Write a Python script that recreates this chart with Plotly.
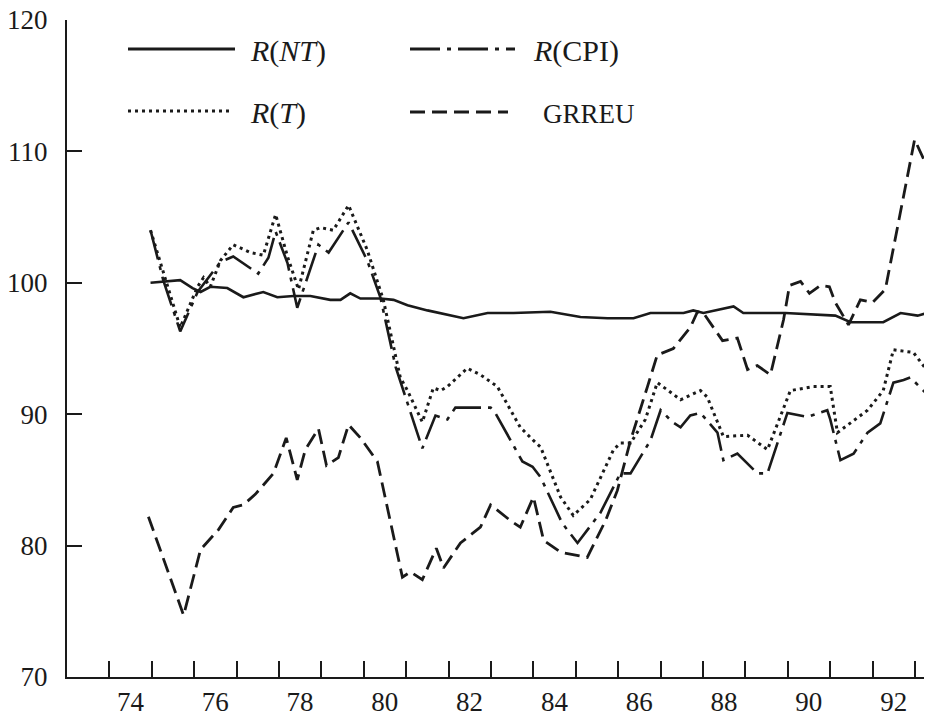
import plotly.graph_objects as go

# ---------------- data (years as decimal, index values) ----------------
rnt_t = [1974.97, 1975.44, 1975.67, 1975.96, 1976.15, 1976.38, 1976.78, 1977.16, 1977.63, 1977.96,
         1978.34, 1978.74, 1979.21, 1979.45, 1979.68, 1979.92, 1980.39, 1980.70, 1981.03, 1981.50,
         1982.35, 1982.92, 1983.53, 1984.40, 1985.11, 1985.75, 1986.36, 1986.76, 1987.54, 1987.77,
         1988.01, 1988.72, 1988.95, 1989.94, 1991.12, 1991.48, 1992.25, 1992.66, 1993.06, 1993.41]
rnt_v = [100.0, 100.1, 100.2, 99.6, 99.3, 99.7, 99.6, 98.9, 99.3, 98.9,
         99.0, 99.0, 98.7, 98.7, 99.2, 98.8, 98.8, 98.7, 98.3, 97.9,
         97.3, 97.7, 97.7, 97.8, 97.4, 97.3, 97.3, 97.7, 97.7, 97.9,
         97.7, 98.2, 97.7, 97.7, 97.5, 97.0, 97.0, 97.7, 97.5, 97.8]

rcpi_t = [1974.97, 1975.27, 1975.67, 1976.08, 1976.62, 1976.92, 1977.51, 1977.75, 1977.92, 1978.20,
          1978.43, 1978.93, 1979.17, 1979.64, 1980.08, 1980.39, 1980.75, 1981.26, 1981.38, 1981.69,
          1981.97, 1982.16, 1982.99, 1983.10, 1983.74, 1983.98, 1984.17, 1984.68, 1985.04, 1985.58,
          1985.82, 1986.05, 1986.29, 1986.76, 1987.00, 1987.28, 1987.47, 1987.70, 1987.94, 1988.34,
          1988.48, 1988.81, 1989.28, 1989.52, 1989.99, 1990.46, 1990.93, 1991.00, 1991.24, 1991.55,
          1991.88, 1992.18, 1992.49, 1992.73, 1992.89, 1993.41]
rcpi_v = [104.0, 100.2, 96.3, 99.3, 101.6, 102.0, 100.7, 101.9, 103.9, 101.5,
          98.1, 102.9, 102.3, 104.6, 101.7, 98.9, 93.6, 88.6, 87.4, 89.9,
          89.6, 90.5, 90.5, 90.1, 86.4, 86.0, 85.2, 81.7, 80.2, 82.5,
          84.0, 85.5, 85.5, 88.0, 90.3, 89.4, 89.0, 89.9, 90.1, 88.6,
          86.5, 87.0, 85.5, 85.5, 90.1, 89.8, 90.3, 89.6, 86.5, 87.0,
          88.6, 89.3, 92.4, 92.6, 92.8, 91.1]

rt_t = [1974.97, 1975.67, 1976.08, 1976.22, 1976.38, 1976.62, 1976.92, 1977.33, 1977.63, 1977.92,
        1978.20, 1978.46, 1978.81, 1978.98, 1979.28, 1979.64, 1980.08, 1980.46, 1980.86, 1981.03,
        1981.38, 1981.64, 1981.81, 1981.97, 1982.44, 1982.75, 1983.15, 1983.69, 1984.00, 1984.17,
        1984.64, 1984.94, 1985.34, 1985.89, 1986.05, 1986.29, 1986.64, 1986.92, 1987.18, 1987.47,
        1987.94, 1988.10, 1988.48, 1989.05, 1989.52, 1990.06, 1990.60, 1991.00, 1991.17, 1991.88,
        1992.25, 1992.49, 1992.96, 1993.41]
rt_v = [104.0, 96.6, 99.7, 100.4, 99.7, 101.7, 102.9, 102.3, 102.1, 105.2,
        102.0, 99.5, 104.0, 104.2, 104.0, 105.9, 102.5, 98.7, 92.8, 91.8,
        89.4, 92.0, 91.8, 92.1, 93.5, 93.0, 92.1, 89.0, 88.0, 87.5,
        83.7, 82.3, 83.5, 87.3, 87.8, 87.8, 89.6, 92.4, 91.8, 91.1,
        91.8, 91.3, 88.3, 88.4, 87.3, 91.8, 92.1, 92.1, 88.6, 90.3,
        91.8, 94.9, 94.7, 92.8]

grreu_t = [1974.92, 1975.75, 1976.15, 1976.57, 1976.92, 1977.16, 1977.44, 1977.87, 1978.17, 1978.43,
           1978.62, 1978.93, 1979.12, 1979.40, 1979.64, 1979.92, 1980.32, 1980.91, 1981.10, 1981.38,
           1981.71, 1981.88, 1982.28, 1982.75, 1982.99, 1983.46, 1983.69, 1984.00, 1984.24, 1984.64,
           1985.27, 1985.70, 1985.98, 1986.29, 1986.69, 1986.92, 1987.30, 1987.70, 1987.87, 1988.01,
           1988.46, 1988.81, 1989.05, 1989.28, 1989.59, 1989.90, 1990.04, 1990.30, 1990.51, 1990.77,
           1990.98, 1991.12, 1991.43, 1991.71, 1992.00, 1992.30, 1992.99, 1993.22, 1993.41]
grreu_v = [82.2, 74.7, 79.7, 81.2, 82.9, 83.1, 83.9, 85.5, 88.2, 85.0,
           87.3, 88.9, 86.1, 86.7, 89.2, 88.2, 86.4, 77.6, 78.0, 77.4,
           79.8, 78.3, 80.2, 81.4, 83.1, 81.9, 81.4, 83.7, 80.4, 79.5,
           79.1, 81.9, 84.2, 88.0, 92.1, 94.5, 95.0, 96.6, 97.8, 97.7,
           95.6, 95.8, 93.4, 93.7, 93.0, 97.2, 99.8, 100.1, 99.2, 99.8,
           99.7, 98.5, 96.8, 98.7, 98.5, 99.5, 110.9, 109.3, 109.1]

year_ticks = list(range(1974, 1994))
year_labels = [str(y - 1900) if y % 2 == 0 and y <= 1992 else "" for y in year_ticks]
y_ticks = [70, 80, 90, 100, 110, 120]

series_names = ["<i>R</i>(<i>NT</i>)", "<i>R</i>(CPI)", "<i>R</i>(<i>T</i>)", "GRREU"]

# ---------------- styling ----------------
FONT = "Liberation Serif"
INK = "#1a1a1a"
PAGE_OFFSET = 8            # default body margin of the html page
W, H = 932 - PAGE_OFFSET, 717 - PAGE_OFFSET
ML, MR, MT, MB = 67 - PAGE_OFFSET, 0, 20 - PAGE_OFFSET, 40
PW, PH = W - ML - MR, H - MT - MB

dash_cpi = "30px,7px,4px,7px"
dash_grreu = "15px,7px"
dash_dot = "3px,4px"

fig = go.Figure()
fig.add_trace(go.Scatter(x=grreu_t, y=grreu_v, mode="lines", name="GRREU",
                         line=dict(color=INK, width=2.8, dash=dash_grreu)))
fig.add_trace(go.Scatter(x=rt_t, y=rt_v, mode="lines", name="R(T)",
                         line=dict(color=INK, width=3, dash=dash_dot)))
fig.add_trace(go.Scatter(x=rcpi_t, y=rcpi_v, mode="lines", name="R(CPI)",
                         line=dict(color=INK, width=2.6, dash=dash_cpi)))
fig.add_trace(go.Scatter(x=rnt_t, y=rnt_v, mode="lines", name="R(NT)",
                         line=dict(color=INK, width=2.6)))


def px(x):
    """screen pixel x -> paper fraction"""
    return (x - PAGE_OFFSET - ML) / PW


def py(y):
    """screen pixel y -> paper fraction"""
    return (H - MB - (y - PAGE_OFFSET)) / PH


# custom legend (two columns)
legend_items = [
    (128, 235, 49, "solid", 2.8, 248, series_names[0], 30),
    (410, 515, 49, dash_cpi, 2.8, 531, series_names[1], 30),
    (128, 232, 111, dash_dot, 3, 248, series_names[2], 30),
    (410, 508, 112, dash_grreu, 2.8, 541, series_names[3], 27),
]
shapes = []
annotations = []
for x0, x1, yy, dash, wid, tx, label, fs in legend_items:
    shapes.append(dict(type="line", xref="paper", yref="paper",
                       x0=px(x0), x1=px(x1), y0=py(yy), y1=py(yy),
                       line=dict(color=INK, width=wid, dash=dash)))
    annotations.append(dict(xref="paper", yref="paper", x=px(tx), y=py(yy + 2),
                            xanchor="left", yanchor="middle", showarrow=False,
                            text=label, font=dict(family=FONT, size=fs, color=INK)))

fig.update_layout(
    width=W, height=H,
    margin=dict(l=ML, r=MR, t=MT, b=MB, autoexpand=False),
    paper_bgcolor="white", plot_bgcolor="white",
    showlegend=False,
    shapes=shapes, annotations=annotations,
    font=dict(family=FONT, size=27, color=INK),
)
fig.update_xaxes(
    range=[1973.0, 1993.4], tickmode="array", tickvals=year_ticks, ticktext=year_labels,
    ticks="inside", ticklen=16, tickwidth=2, tickcolor=INK,
    showline=True, linecolor=INK, linewidth=2, showgrid=False, zeroline=False,
    ticklabelshift=21, ticklabelstandoff=0, automargin=False, ticklabeloverflow="allow",
    tickfont=dict(family=FONT, size=27, color=INK),
)
fig.update_yaxes(
    range=[70, 120], tickmode="array", tickvals=y_ticks,
    ticks="inside", ticklen=15, tickwidth=2, tickcolor=INK,
    showline=True, linecolor=INK, linewidth=2, showgrid=False, zeroline=False,
    ticklabelstandoff=12, automargin=False, ticklabeloverflow="allow",
    tickfont=dict(family=FONT, size=27, color=INK),
)

fig.write_html("out.html")
